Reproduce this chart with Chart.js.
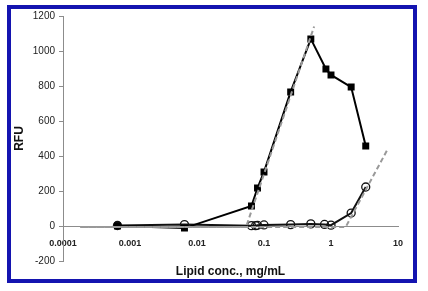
<!DOCTYPE html>
<html>
<head>
<meta charset="utf-8">
<script src="https://cdn.jsdelivr.net/npm/chart.js"></script>
<style>
  body { margin: 0; background: #fff; }
  #frame {
    position: absolute; left: 7px; top: 5px; width: 402px; height: 270px;
    border: 4px solid #1414b0;
  }
  #wrap { position: absolute; left: 0; top: 0; width: 428px; height: 291px; }
</style>
</head>
<body>
<div id="frame"></div>
<div id="wrap"><canvas id="chart" width="428" height="291"></canvas></div>
<script>
// concentrations (mg/mL) and RFU readings
var concSquares = [0.00065, 0.0065, 0.065, 0.08, 0.1, 0.25, 0.5, 0.84, 1.0, 2.0, 3.3];
var rfuSquares  = [0, -12, 114, 217, 309, 766, 1069, 897, 863, 794, 457];

var concCircles = [0.00065, 0.0065, 0.065, 0.075, 0.08, 0.1, 0.25, 0.5, 0.8, 1.0, 2.0, 3.3];
var rfuCircles  = [3, 8, 2, 2, 4, 6, 8, 12, 9, 5, 74, 223];

// fitted curves (dashed)
var concFit1 = [0.00018, 0.054, 0.56];
var rfuFit1  = [-5, -5, 1140];
var concFit2 = [0.0002, 1.66, 6.9];
var rfuFit2  = [-5, -5, 434];

var xTicks = [0.0001, 0.001, 0.01, 0.1, 1, 10];
var yMin = -200, yMax = 1200, yStep = 200;

function toPoints(xs, ys) {
  var pts = [];
  for (var i = 0; i < xs.length; i++) {
    pts.push({x: xs[i], y: ys[i]});
  }
  return pts;
}

var chart = new Chart(document.getElementById('chart'), {
  type: 'line',
  data: {
    datasets: [{
      label: 'fit 1',
      data: toPoints(concFit1, rfuFit1),
      borderColor: '#999999',
      borderWidth: 2,
      borderDash: [5, 3],
      pointRadius: 0,
      fill: false
    }, {
      label: 'fit 2',
      data: toPoints(concFit2, rfuFit2),
      borderColor: '#999999',
      borderWidth: 2,
      borderDash: [5, 3],
      pointRadius: 0,
      fill: false
    }, {
      label: 'squares',
      data: toPoints(concSquares, rfuSquares),
      borderColor: '#000000',
      backgroundColor: '#000000',
      borderWidth: 2,
      pointStyle: 'rect',
      pointRadius: 3.5,
      fill: false
    }, {
      label: 'circles',
      data: toPoints(concCircles, rfuCircles),
      borderColor: '#111111',
      // first circle sits on top of the square and looks filled
      pointBackgroundColor: function(ctx) {
        return ctx.dataIndex === 0 ? '#222222' : 'rgba(0,0,0,0)';
      },
      borderWidth: 2,
      pointStyle: 'circle',
      pointRadius: 4,
      pointBorderWidth: 1.3,
      fill: false
    }]
  },
  options: {
    responsive: false,
    animation: false,
    devicePixelRatio: 1,
    layout: { padding: { left: 12, right: 30, top: 16, bottom: 10 } },
    plugins: {
      legend: { display: false },
      tooltip: { enabled: false }
    },
    scales: {
      x: {
        type: 'logarithmic',
        position: { y: 0 },
        min: 0.0001,
        max: 10,
        afterBuildTicks: function(axis) {
          axis.ticks = xTicks.map(function(v) { return {value: v}; });
        },
        ticks: {
          autoSkip: false,
          maxRotation: 0,
          padding: 2,
          color: '#222',
          font: { family: 'Liberation Sans', size: 9, weight: 'bold' },
          callback: function(v) { return String(v); }
        },
        grid: { drawOnChartArea: false, tickLength: 10, tickColor: 'rgba(0,0,0,0)' },
        border: { color: '#8c8c8c', width: 1 }
      },
      x2: {
        type: 'linear',
        position: 'bottom',
        ticks: { display: false },
        grid: { display: false },
        border: { display: false },
        title: {
          display: true,
          text: 'Lipid conc., mg/mL',
          color: '#111',
          font: { family: 'Liberation Sans', size: 12, weight: 'bold' },
          padding: { top: 2, bottom: 2 }
        },
        afterFit: function(axis) { axis.height = 20; }
      },
      y: {
        min: yMin,
        max: yMax,
        ticks: {
          stepSize: yStep,
          autoSkip: false,
          padding: 4,
          color: '#222',
          font: { family: 'Liberation Sans', size: 10 },
          callback: function(v) { return String(v); }
        },
        grid: { drawOnChartArea: false, tickLength: 4, color: '#8c8c8c' },
        border: { color: '#8c8c8c', width: 1 },
        title: {
          display: true,
          text: 'RFU',
          color: '#111',
          font: { family: 'Liberation Sans', size: 12, weight: 'bold' },
          padding: { top: 0, bottom: 4 }
        },
        afterFit: function(axis) { axis.width = 51; }
      }
    }
  }
});
</script>
</body>
</html>
